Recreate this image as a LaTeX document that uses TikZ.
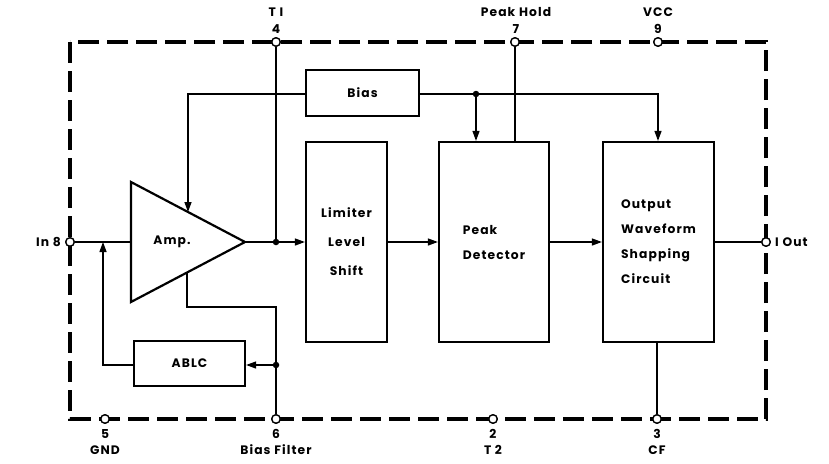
\documentclass[tikz,border=0pt]{standalone}
\usepackage{fontspec}
\setmainfont[LetterSpace=9]{Poppins}
\usetikzlibrary{arrows.meta}
\begin{document}
\begin{tikzpicture}[x=1pt,y=-1pt,
  txt/.style={font=\fontsize{12.3}{14}\selectfont\bfseries, inner sep=0pt},
  blk/.style={draw, line width=2.2pt, inner sep=0pt, font=\fontsize{12.3}{25}\selectfont\bfseries},
  wire/.style={line width=1.3pt},
  arr/.style={wire, -{Triangle[length=10pt,width=7pt]}},
  frame/.style={line width=3.2pt, dash pattern=on 21pt off 8pt},
  pin/.style={circle, draw, fill=white, line width=1.3pt, inner sep=0pt, minimum size=8.5pt},
  dot/.style={circle, fill, inner sep=0pt, minimum size=6.5pt}]
\useasboundingbox (0,0) rectangle (829,463);
% frame
\draw[frame] (70,42) rectangle (766,419);
% blocks
\node[blk, minimum width=113pt, minimum height=46pt] (bias) at (362.5,93) {Bias};
\node[blk, minimum width=81pt, minimum height=200pt, align=center, font=\fontsize{12.3}{29}\selectfont\bfseries] (lim) at (346.5,242) {Limiter\\Level\\Shift};
\node[blk, minimum width=110pt, minimum height=200pt, align=left] (pk) at (494,242) {Peak\\Detector};
\node[blk, minimum width=111pt, minimum height=200pt, align=left] (out) at (658.5,242) {Output\\Waveform\\Shapping\\Circuit};
\node[blk, minimum width=111pt, minimum height=45pt] (ablc) at (189.5,363.5) {ABLC};
% amplifier
\coordinate (ain) at (131,242);
\coordinate (aout) at (245,242);
\coordinate (atop) at (188,212);
\coordinate (abot) at (187,272.5);
\draw[line width=2.2pt, line join=miter] (131,182) -- (aout) -- (131,302) -- cycle;
\node[txt] (amp) at (172,242) {Amp.};
% pins
\node[pin] (p4) at (276,42) {};
\node[pin] (p7) at (515,42) {};
\node[pin] (p9) at (658,42) {};
\node[pin] (p8) at (70,242) {};
\node[pin] (p1) at (766,242) {};
\node[pin] (p5) at (105,419) {};
\node[pin] (p6) at (276,419) {};
\node[pin] (p2) at (493,419) {};
\node[pin] (p3) at (657,419) {};
% junctions
\node[dot] (j1) at (276,242) {};
\node[dot] (j2) at (476,94) {};
\node[dot] (j3) at (276,365) {};
% wires
\draw[wire] (p4) -- (j1);
\draw[wire] (p7) -- (p7 |- pk.north);
\draw[arr] (bias.west |- 0,94) -| (atop);
\draw[wire] (bias.east |- 0,94) -- (j2);
\draw[arr] (j2) -| (p9 |- out.north);
\draw[arr] (j2) -- (j2 |- pk.north);
\draw[wire] (p8) -- (ain);
\draw[wire] (aout) -- (j1);
\draw[arr] (j1) -- (lim.west |- j1);
\draw[arr] (lim.east |- 0,242) -- (pk.west |- 0,242);
\draw[arr] (pk.east |- 0,242) -- (out.west |- 0,242);
\draw[wire] (out.east |- 0,242) -- (p1);
\draw[wire] (abot) |- (276,307) -- (p6);
\draw[arr] (j3) -- (ablc.east |- j3);
\draw[arr] (ablc.west |- 0,365) -| (103,242);
\draw[wire] (p3 |- out.south) -- (p3);
% redraw pins on top
\foreach \p in {p4,p7,p9,p8,p1,p5,p6,p2,p3} \node[pin] at (\p) {};
% labels
\node[txt] (l4a) at (276,12) {T I};
\node[txt] (l4b) at (276,29) {4};
\node[txt] (l7a) at (516,12) {Peak Hold};
\node[txt] (l7b) at (516,29) {7};
\node[txt] (l9a) at (658,12) {VCC};
\node[txt] (l9b) at (658,29) {9};
\node[txt, anchor=east] (l8) at (61,242) {In 8};
\node[txt, anchor=west] (l1) at (775,242) {I Out};
\node[txt] (l5a) at (105,434) {5};
\node[txt] (l5b) at (105,450) {GND};
\node[txt] (l6a) at (276,434) {6};
\node[txt] (l6b) at (276,450) {Bias Filter};
\node[txt] (l2a) at (493,434) {2};
\node[txt] (l2b) at (493,450) {T 2};
\node[txt] (l3a) at (657,434) {3};
\node[txt] (l3b) at (657,450) {CF};
\end{tikzpicture}
\end{document}
